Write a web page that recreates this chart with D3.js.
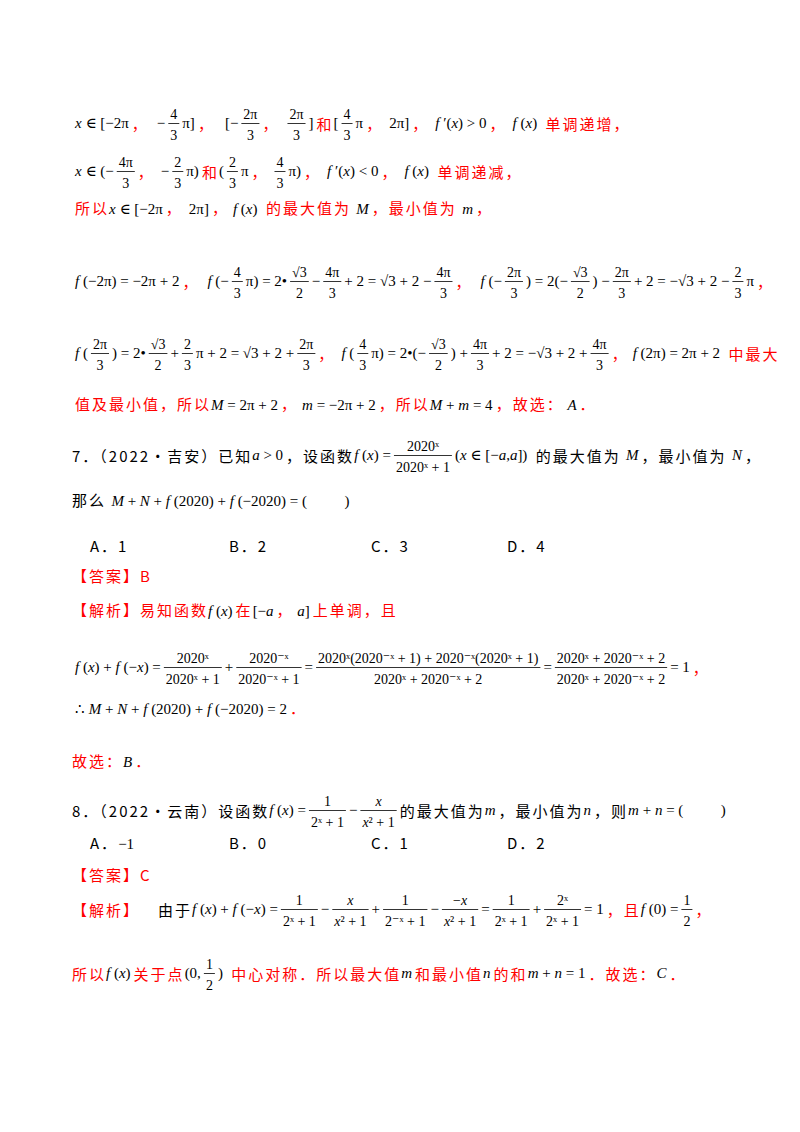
<!DOCTYPE html>
<html><head><meta charset="utf-8">
<script src="https://cdn.jsdelivr.net/npm/d3@7"></script>
<style>body{margin:0;background:#fff} text{white-space:pre}</style>
</head><body>
<script>
// token helpers: m = math text, r = red chinese, k = black chinese, F = fraction, g = gap, T = tab stop
const m = (s) => ({ type: 'm', s })
const r = (s) => ({ type: 'r', s })
const k = (s) => ({ type: 'k', s })
const F = (n, d) => ({ type: 'f', n, d })
const g = (w) => ({ type: 'g', w })
const T = (x) => ({ type: 't', x })

// document lines: baseline y and tokens
const lineY = [128, 176, 214, 286, 358, 410, 460, 506, 552, 582, 616, 672, 714, 767, 815, 849, 881, 914, 978]
const lineX = [75, 75, 75, 75, 75, 75, 72, 72, 90, 72, 72, 75, 75, 72, 72, 90, 72, 72, 72]
const lines = [
  [m('x ∈ [−2π'), r('，'), g(8), m('−'), F('4', '3'), m('π]'), r('，'), g(10), m('[−'), F('2π', '3'), r('，'), g(8), F('2π', '3'), m(']'), r('和'), m('['), F('4', '3'), m('π'), r('，'), g(6), m('2π]'), r('，'), g(6), m('f ′(x) > 0'), r('，'), g(6), m('f (x)'), r(' 单调递增，')],
  [m('x ∈ (−'), F('4π', '3'), r('，'), g(6), m('−'), F('2', '3'), m('π)'), r('和'), m('('), F('2', '3'), m('π'), r('，'), g(6), F('4', '3'), m('π)'), r('，'), g(6), m('f ′(x) < 0'), r('，'), g(6), m('f (x)'), r(' 单调递减，')],
  [r('所以'), m('x ∈ [−2π'), r('，'), g(6), m('2π]'), r('，'), g(4), m('f (x)'), r(' 的最大值为 '), m('M'), r('，最小值为 '), m('m'), r('，')],
  [m('f (−2π) = −2π + 2'), r('，'), g(8), m('f (−'), F('4', '3'), m('π) = 2•'), F('√3', '2'), m('−'), F('4π', '3'), m('+ 2 = √3 + 2 −'), F('4π', '3'), r('，'), g(8), m('f (−'), F('2π', '3'), m(') = 2(−'), F('√3', '2'), m(') −'), F('2π', '3'), m('+ 2 = −√3 + 2 −'), F('2', '3'), m('π'), r('，')],
  [m('f ('), F('2π', '3'), m(') = 2•'), F('√3', '2'), m('+'), F('2', '3'), m('π + 2 = √3 + 2 +'), F('2π', '3'), r('，'), g(6), m('f ('), F('4', '3'), m('π) = 2•(−'), F('√3', '2'), m(') +'), F('4π', '3'), m('+ 2 = −√3 + 2 +'), F('4π', '3'), r('，'), g(4), m('f (2π) = 2π + 2'), r(' 中最大')],
  [r('值及最小值，所以'), m('M = 2π + 2'), r('，'), g(4), m('m = −2π + 2'), r('，所以'), m('M + m = 4'), r('，故选：'), m(' A'), r('．')],
  [k('7．（2022·吉安）已知'), m('a > 0'), k('，设函数'), m('f (x) ='), F('2020ˣ', '2020ˣ + 1'), m('(x ∈ [−a,a])'), k(' 的最大值为 '), m('M'), k('，最小值为 '), m('N'), k('，')],
  [k('那么 '), m('M + N + f (2020) + f (−2020) = (          )')],
  [k('A．1'), T(229), k('B．2'), T(371), k('C．3'), T(507), k('D．4')],
  [r('【答案】B')],
  [r('【解析】易知函数'), m('f (x)'), r('在'), m('[−a'), r('，'), m(' a]'), r('上单调，且')],
  [m('f (x) + f (−x) ='), F('2020ˣ', '2020ˣ + 1'), m('+'), F('2020⁻ˣ', '2020⁻ˣ + 1'), m('='), F('2020ˣ(2020⁻ˣ + 1) + 2020⁻ˣ(2020ˣ + 1)', '2020ˣ + 2020⁻ˣ + 2'), m('='), F('2020ˣ + 2020⁻ˣ + 2', '2020ˣ + 2020⁻ˣ + 2'), m('= 1'), r('，')],
  [m('∴ M + N + f (2020) + f (−2020) = 2'), r('．')],
  [r('故选：'), m('B'), r('．')],
  [k('8．（2022·云南）设函数'), m('f (x) ='), F('1', '2ˣ + 1'), m('−'), F('x', 'x² + 1'), k('的最大值为'), m('m'), k('，最小值为'), m('n'), k('，则'), m('m + n = (          )')],
  [k('A．'), m('−1'), T(229), k('B．0'), T(371), k('C．1'), T(507), k('D．2')],
  [r('【答案】C')],
  [r('【解析】'), g(18), k('由于'), m('f (x) + f (−x) ='), F('1', '2ˣ + 1'), m('−'), F('x', 'x² + 1'), m('+'), F('1', '2⁻ˣ + 1'), m('−'), F('−x', 'x² + 1'), m('='), F('1', '2ˣ + 1'), m('+'), F('2ˣ', '2ˣ + 1'), m('= 1'), r('，且'), m('f (0) ='), F('1', '2'), r('，')],
  [r('所以'), m('f (x)'), r('关于点'), m('(0,'), F('1', '2'), m(')'), r(' 中心对称．所以最大值'), m('m'), r('和最小值'), m('n'), r('的和'), m('m + n = 1'), r('．故选：'), m('C'), r('．')]
]

const width = 800
const height = 1132
const svg = d3.select('body').append('svg').attr('width', width).attr('height', height)

const mathFont = '"Liberation Serif", "DejaVu Serif", serif'
const cjkFont = '"Noto Sans CJK SC", sans-serif'
const styles = {
  m: { font: mathFont, size: 15, fill: '#000', spacing: 0 },
  r: { font: cjkFont, size: 15, fill: '#ff0000', spacing: 2 },
  k: { font: cjkFont, size: 15, fill: '#000', spacing: 2 }
}

function put(sel, s, st, x, y, size) {
  const t = sel.append('text')
    .attr('x', x).attr('y', y)
    .style('font-family', st.font)
    .style('font-size', (size || st.size) + 'px')
    .style('letter-spacing', st.spacing + 'px')
    .attr('fill', st.fill)
  if (st === styles.m) {
    // latin letters italic, digits and symbols upright
    s.split(/([A-Za-z]+)/).filter(p => p.length).forEach(p => {
      t.append('tspan').style('font-style', /^[A-Za-z]/.test(p) ? 'italic' : 'normal').text(p)
    })
  } else {
    t.text(s)
  }
  return t
}

lines.forEach((tokens, i) => {
  const y = lineY[i]
  let x = lineX[i]
  const grp = svg.append('g')
  const hasFrac = tokens.some(q => q.type === 'f')
  tokens.forEach(t => {
    if (t.type === 'g') { x += t.w; return }
    if (t.type === 't') { x = t.x; return }
    if (t.type === 'f') {
      const st = styles.m
      const n = put(grp, t.n, st, 0, y - 9, 14)
      const d = put(grp, t.d, st, 0, y + 12, 14)
      const wn = n.node().getComputedTextLength()
      const wd = d.node().getComputedTextLength()
      const w = Math.max(wn, wd) + 4
      n.attr('x', x + (w - wn) / 2)
      d.attr('x', x + (w - wd) / 2)
      grp.append('line').attr('x1', x).attr('x2', x + w)
        .attr('y1', y - 4.5).attr('y2', y - 4.5)
        .attr('stroke', '#000').attr('stroke-width', 0.8)
      x += w + 3
      return
    }
    const yy = (t.type !== 'm' && hasFrac) ? y + 2 : y
    const node = put(grp, t.s, styles[t.type], x, yy)
    x += node.node().getComputedTextLength() + (t.type === 'm' ? 3 : 0)
  })
})
</script>
</body></html>
